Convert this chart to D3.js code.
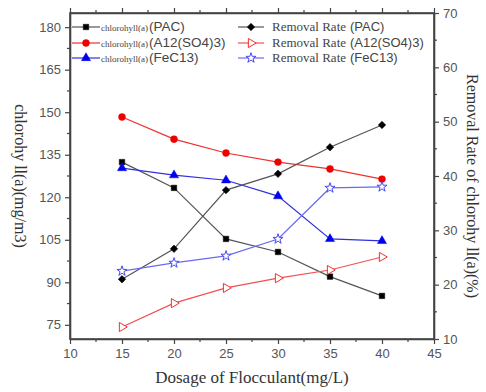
<!DOCTYPE html>
<html><head><meta charset="utf-8">
<script src="https://cdn.jsdelivr.net/npm/d3@7"></script>
<style>body{margin:0;background:#fff}</style>
</head><body>
<svg id="c" width="486" height="392"></svg>
<script>
const dosage = [15, 20, 25, 30, 35, 40];
const chlPAC = [132.4, 123.3, 105.3, 100.7, 92.0, 85.2];
const chlAl = [148.3, 140.5, 135.6, 132.4, 130.0, 126.4];
const chlFe = [130.3, 127.8, 126.0, 120.4, 105.3, 104.6];
const remPAC = [21.0, 26.6, 37.4, 40.4, 45.3, 49.4];
const remAl = [12.2, 16.6, 19.4, 21.2, 22.7, 25.1];
const remFe = [22.5, 24.0, 25.3, 28.4, 37.8, 38.0];
const xTicks = [10, 15, 20, 25, 30, 35, 40, 45];
const yLeftTicks = [75, 90, 105, 120, 135, 150, 165, 180];
const yRightTicks = [10, 20, 30, 40, 50, 60, 70];

const svg = d3.select("#c");
const L = 70, R = 434, T = 13, B = 339;
const x = d3.scaleLinear().domain([10, 45]).range([L, R]);
const yl = d3.scaleLinear().domain([70, 185]).range([B, T]);
const yr = d3.scaleLinear().domain([10, 70]).range([B, T]);

const tickFont = "'Liberation Sans Narrow','Liberation Sans',sans-serif";
const axColor = "#444";

function styleAxis(g){
  g.selectAll("path").attr("stroke", axColor).attr("stroke-width", 1.6);
  g.selectAll("line").attr("stroke", axColor).attr("stroke-width", 1.2);
  g.selectAll("text").attr("font-family", tickFont).attr("font-size", 13).attr("fill", "#555");
}
function minor(g, scale, vals, orient){
  vals.forEach(v => {
    const p = scale(v);
    if (orient === "bottom") g.append("line").attr("x1", p).attr("x2", p).attr("y1", 0).attr("y2", 3);
    if (orient === "top") g.append("line").attr("x1", p).attr("x2", p).attr("y1", 0).attr("y2", -3);
    if (orient === "left") g.append("line").attr("x1", 0).attr("x2", -3).attr("y1", p).attr("y2", p);
    if (orient === "right") g.append("line").attr("x1", 0).attr("x2", 3).attr("y1", p).attr("y2", p);
  });
  g.selectAll("line").attr("stroke", axColor).attr("stroke-width", 1.2);
}
const xMinor = d3.range(12.5, 45, 5);
const ylMinor = d3.range(82.5, 185, 15);
const yrMinor = d3.range(15, 70, 10);

const gx = svg.append("g").attr("transform", `translate(0,${B})`)
  .call(d3.axisBottom(x).tickValues(xTicks).tickSize(5).tickPadding(5).tickSizeOuter(0));
styleAxis(gx); minor(gx, x, xMinor, "bottom");
const gxt = svg.append("g").attr("transform", `translate(0,${T})`)
  .call(d3.axisTop(x).tickValues(xTicks).tickSize(5).tickFormat("").tickSizeOuter(0));
styleAxis(gxt); minor(gxt, x, xMinor, "top");
const gyl = svg.append("g").attr("transform", `translate(${L},0)`)
  .call(d3.axisLeft(yl).tickValues(yLeftTicks).tickSize(5).tickPadding(4).tickSizeOuter(0));
styleAxis(gyl); minor(gyl, yl, ylMinor, "left");
const gyr = svg.append("g").attr("transform", `translate(${R},0)`)
  .call(d3.axisRight(yr).tickValues(yRightTicks).tickSize(5).tickPadding(4).tickSizeOuter(0));
styleAxis(gyr); minor(gyr, yr, yrMinor, "right");

const series = [
  {vals: chlPAC, y: yl, line: "#555", color: "#000", sym: d3.symbolSquare, size: 30, open: false, rot: 0},
  {vals: chlAl, y: yl, line: "#f03030", color: "#ee0000", sym: d3.symbolCircle, size: 38, open: false, rot: 0},
  {vals: chlFe, y: yl, line: "#3030e0", color: "#0000ee", sym: d3.symbolTriangle, size: 36, open: false, rot: 0},
  {vals: remPAC, y: yr, line: "#555", color: "#000", sym: d3.symbolSquare, size: 28, open: false, rot: 45},
  {vals: remAl, y: yr, line: "#f05050", color: "#f03030", sym: d3.symbolTriangle, size: 36, open: true, rot: 90},
  {vals: remFe, y: yr, line: "#6a6af0", color: "#4a4af0", sym: d3.symbolStar, size: 32, open: true, rot: 0},
];

series.forEach(s => {
  const line = d3.line().x((d, i) => x(dosage[i])).y(d => s.y(d));
  svg.append("path").datum(s.vals).attr("d", line).attr("fill", "none")
    .attr("stroke", s.line).attr("stroke-width", 1.2);
  svg.selectAll(null).data(s.vals).enter().append("path")
    .attr("d", d3.symbol().type(s.sym).size(s.size))
    .attr("transform", (d, i) => `translate(${x(dosage[i])},${s.y(d)}) rotate(${s.rot})`)
    .attr("fill", s.open ? "#fff" : s.color)
    .attr("stroke", s.color).attr("stroke-width", s.open ? 1 : 0.5);
});

svg.append("rect").attr("x", L).attr("y", T).attr("width", R - L).attr("height", B - T)
  .attr("fill", "none").attr("stroke", axColor).attr("stroke-width", 1.6);

const legLeft = [
  {s: series[0], small: "chlorohyll(a)", big: "(PAC)"},
  {s: series[1], small: "chlorohyll(a)", big: "(A12(SO4)3)"},
  {s: series[2], small: "chlorohyll(a)", big: "(FeC13)"},
];
const legRight = [
  {s: series[3], main: "Removal Rate", paren: "(PAC)"},
  {s: series[4], main: "Removal Rate", paren: "(A12(SO4)3)"},
  {s: series[5], main: "Removal Rate", paren: "(FeC13)"},
];
const rowY = [27, 43, 58];
function legMark(s, x0, x1, y){
  svg.append("line").attr("x1", x0).attr("x2", x1).attr("y1", y).attr("y2", y)
    .attr("stroke", s.line).attr("stroke-width", 1.2);
  svg.append("path").attr("d", d3.symbol().type(s.sym).size(s.size))
    .attr("transform", `translate(${(x0 + x1) / 2},${y}) rotate(${s.rot})`)
    .attr("fill", s.open ? "#fff" : s.color).attr("stroke", s.color).attr("stroke-width", s.open ? 1 : 0.5);
}
legLeft.forEach((d, i) => {
  legMark(d.s, 72, 100, rowY[i]);
  const t = svg.append("text").attr("x", 101).attr("y", rowY[i] + 4)
    .attr("font-family", "'Liberation Serif',serif").attr("fill", "#444");
  t.append("tspan").attr("font-size", 9).text(d.small);
  t.append("tspan").attr("font-size", 13.5).attr("font-family", tickFont).attr("dx", 1).text(d.big);
});
legRight.forEach((d, i) => {
  legMark(d.s, 238, 264, rowY[i]);
  const t = svg.append("text").attr("x", 272).attr("y", rowY[i] + 4)
    .attr("font-family", "'Liberation Serif',serif").attr("font-size", 13).attr("fill", "#444");
  t.append("tspan").text(d.main);
  t.append("tspan").attr("font-family", tickFont).attr("font-size", 13).attr("dx", 4).text(d.paren);
});

svg.append("text").attr("x", (L + R) / 2).attr("y", 383).attr("text-anchor", "middle")
  .attr("font-family", "'Liberation Serif',serif").attr("font-size", 17).attr("fill", "#333")
  .text("Dosage of Flocculant(mg/L)");
svg.append("text").attr("transform", `translate(15,${(T + B) / 2}) rotate(90)`).attr("text-anchor", "middle")
  .attr("font-family", "'Liberation Serif',serif").attr("font-size", 16).attr("fill", "#333")
  .text("chlorohy ll(a)(mg/m3)");
svg.append("text").attr("transform", `translate(467,${(T + B) / 2 + 10}) rotate(90)`).attr("text-anchor", "middle")
  .attr("font-family", "'Liberation Serif',serif").attr("font-size", 16).attr("fill", "#333")
  .text("Removal Rate of chlorohy ll(a)(%)");
</script>
</body></html>
